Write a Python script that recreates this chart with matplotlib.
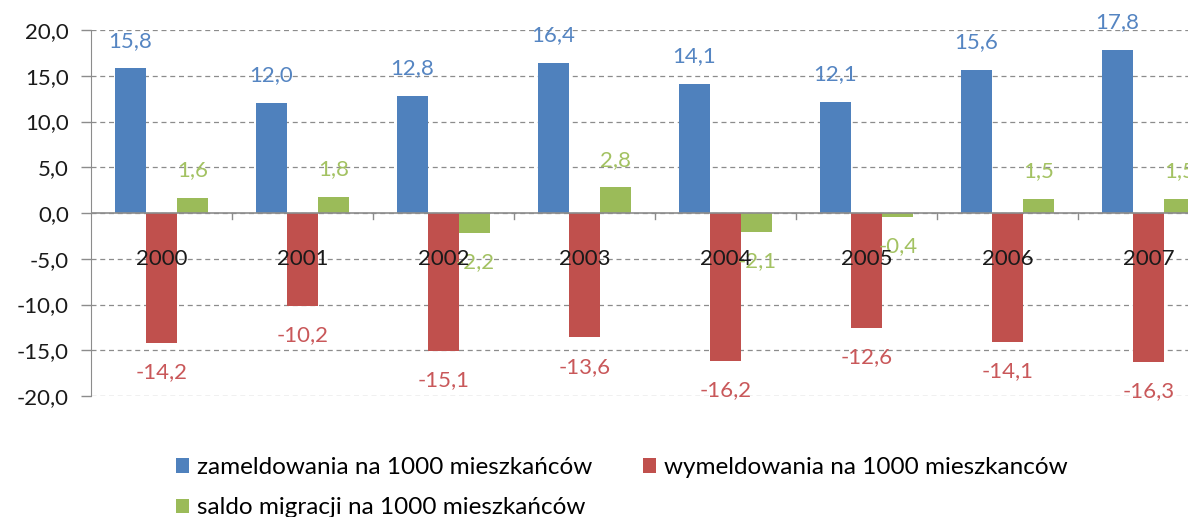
import numpy as np
import matplotlib.pyplot as plt
from matplotlib.ticker import FuncFormatter

years = ['2000', '2001', '2002', '2003', '2004', '2005', '2006', '2007']
zameld = [15.8, 12.0, 12.8, 16.4, 14.1, 12.1, 15.6, 17.8]
wymeld = [-14.2, -10.2, -15.1, -13.6, -16.2, -12.6, -14.1, -16.3]
saldo = [1.6, 1.8, -2.2, 2.8, -2.1, -0.4, 1.5, 1.5]
labels = ['zameldowania na 1000 mieszkańców',
          'wymeldowania na 1000 mieszkanców',
          'saldo migracji na 1000 mieszkańców']

plt.rcParams['font.family'] = ['Lato', 'DejaVu Sans']

W, H = 1188, 517
fig = plt.figure(figsize=(W / 100, H / 100), dpi=100)
ax = fig.add_axes([91 / W, (H - 396) / H, 1128 / W, 366 / H])

colors = ['#4f81bd', '#c0504d', '#9bbb59']
txtcol = ['#5585c2', '#c9585a', '#a3c262']
x = np.arange(len(years))
bw = 0.222
series = [zameld, wymeld, saldo]
handles = []
for i, (vals, c, tc, lab) in enumerate(zip(series, colors, txtcol, labels)):
    pos = x + (i - 1) * bw
    handles.append(ax.bar(pos, vals, bw, color=c, label=lab, zorder=2))
    for px, v in zip(pos, vals):
        off = 20 if v >= 0 else -21
        ax.annotate(f'{v:.1f}'.replace('.', ','), (px, v), xytext=(0, off),
                    textcoords='offset points', ha='center', va='center',
                    color=tc, fontsize=16, zorder=4)

for xi, y in zip(x, years):
    ax.text(xi, -5, y, ha='center', va='center', fontsize=16,
            color='#1a1a1a', zorder=5)

ax.set_xlim(-0.5, len(years) - 0.5)
ax.set_ylim(-20, 20)
ax.set_yticks(np.arange(-20, 21, 5))
ax.yaxis.set_major_formatter(FuncFormatter(lambda v, p: f'{v:.1f}'.replace('.', ',')))
ax.tick_params(axis='y', labelsize=16, length=7, width=1, color='#8c8c8c',
               pad=9, labelcolor='#1a1a1a')
ax.set_xticks([])
for b in np.arange(0.5, len(years), 1):
    ax.plot([b, b], [0, -0.7], color='#8c8c8c', lw=1, zorder=1, clip_on=False)

ax.grid(axis='y', linestyle=(0, (4, 3)), color='#8c8c8c', lw=0.9, zorder=0)
ax.axhline(0, color='#8c8c8c', lw=1.2, zorder=3)
for s in ['top', 'right', 'bottom']:
    ax.spines[s].set_visible(False)
ax.spines['left'].set_color('#8c8c8c')

order = [0, 2, 1]
fig.legend([handles[k] for k in order], [labels[k] for k in order],
           loc='upper left', bbox_to_anchor=(176 / W, 1 - 457 / H), ncol=2,
           frameon=False, fontsize=17.5, handlelength=0.55, handleheight=0.55,
           handletextpad=0.3, columnspacing=2.1, labelspacing=0.8,
           borderaxespad=0, borderpad=0)

fig.savefig('out.png', dpi=100)
